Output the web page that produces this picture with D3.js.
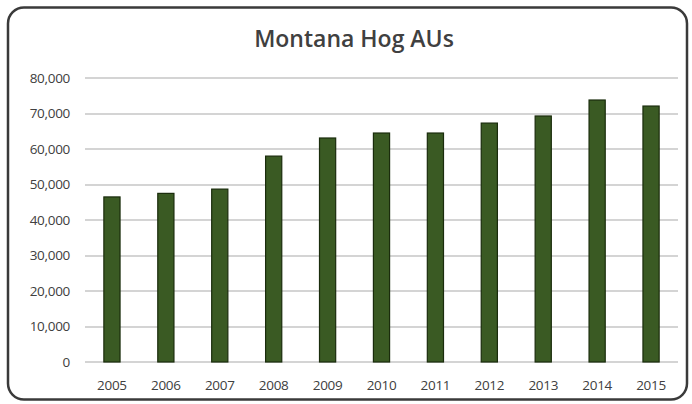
<!DOCTYPE html>
<html>
<head>
<meta charset="utf-8">
<script src="https://cdn.jsdelivr.net/npm/d3@7"></script>
<style>
  body { margin: 0; background: #fff; }
  svg { display: block; font-family: "Open Sans", "Noto Sans", sans-serif; }
</style>
</head>
<body>
<div id="chart"></div>
<script>
// ---- data ----
const years = ['2005', '2006', '2007', '2008', '2009', '2010', '2011', '2012', '2013', '2014', '2015'];
const hogAUs = [46500, 47500, 48700, 58000, 63100, 64500, 64500, 67300, 69300, 73800, 72100];
const yTicks = [0, 10000, 20000, 30000, 40000, 50000, 60000, 70000, 80000];

const W = 692, H = 404;
const margin = { top: 78, right: 14, bottom: 42, left: 85 };
const width = W - margin.left - margin.right;
const height = H - margin.top - margin.bottom;

const svg = d3.select('#chart').append('svg')
    .attr('width', W)
    .attr('height', H);

// outer frame
svg.append('rect')
    .attr('x', 8).attr('y', 7.5)
    .attr('width', 679).attr('height', 392)
    .attr('rx', 16).attr('ry', 16)
    .attr('fill', '#fff')
    .attr('stroke', '#3a3a3a')
    .attr('stroke-width', 2.5);

svg.append('text')
    .attr('x', 354)
    .attr('y', 47)
    .attr('text-anchor', 'middle')
    .attr('font-size', '23px')
    .attr('font-weight', 600)
    .attr('fill', '#404040')
    .text('Montana Hog AUs');

const plot = svg.append('g')
    .attr('transform', `translate(${margin.left}, ${margin.top})`);

const x = d3.scaleBand().domain(years).range([0, width]).paddingInner(0.7).paddingOuter(0.35);
const y = d3.scaleLinear().domain([0, 80000]).range([height, 0]);

// gridlines
plot.append('g')
    .attr('class', 'grid')
    .selectAll('line')
    .data(yTicks)
    .enter()
    .append('line')
    .attr('x1', 0)
    .attr('x2', width)
    .attr('y1', d => y(d))
    .attr('y2', d => y(d))
    .attr('stroke', '#d4d4d4')
    .attr('stroke-width', 2)
    .attr('shape-rendering', 'crispEdges');

const yAxis = d3.axisLeft(y).tickValues(yTicks).tickFormat(d3.format(',')).tickSize(0).tickPadding(15);
plot.append('g')
    .attr('class', 'axis y')
    .call(yAxis)
    .attr('font-size', '13.5px')
    .attr('font-family', null)
    .call(g => g.selectAll('text').attr('fill', '#404040').attr('letter-spacing', '-0.3px'))
    .select('.domain').remove();

const xAxis = d3.axisBottom(x).tickSize(0).tickPadding(18);
plot.append('g')
    .attr('class', 'axis x')
    .attr('transform', `translate(0, ${height})`)
    .call(xAxis)
    .attr('font-size', '13.5px')
    .attr('font-family', null)
    .call(g => g.selectAll('text').attr('fill', '#404040').attr('letter-spacing', '-0.3px'))
    .select('.domain').remove();

// bars
plot.append('g')
    .attr('class', 'bars')
    .selectAll('rect')
    .data(years.map((yr, i) => ({ year: yr, value: hogAUs[i] })))
    .enter()
    .append('rect')
    .attr('x', d => x(d.year))
    .attr('y', d => y(d.value))
    .attr('width', x.bandwidth())
    .attr('height', d => height - y(d.value))
    .attr('fill', '#3a5a23')
    .attr('stroke', '#1a2c0c')
    .attr('stroke-width', 1.2);
</script>
</body>
</html>
